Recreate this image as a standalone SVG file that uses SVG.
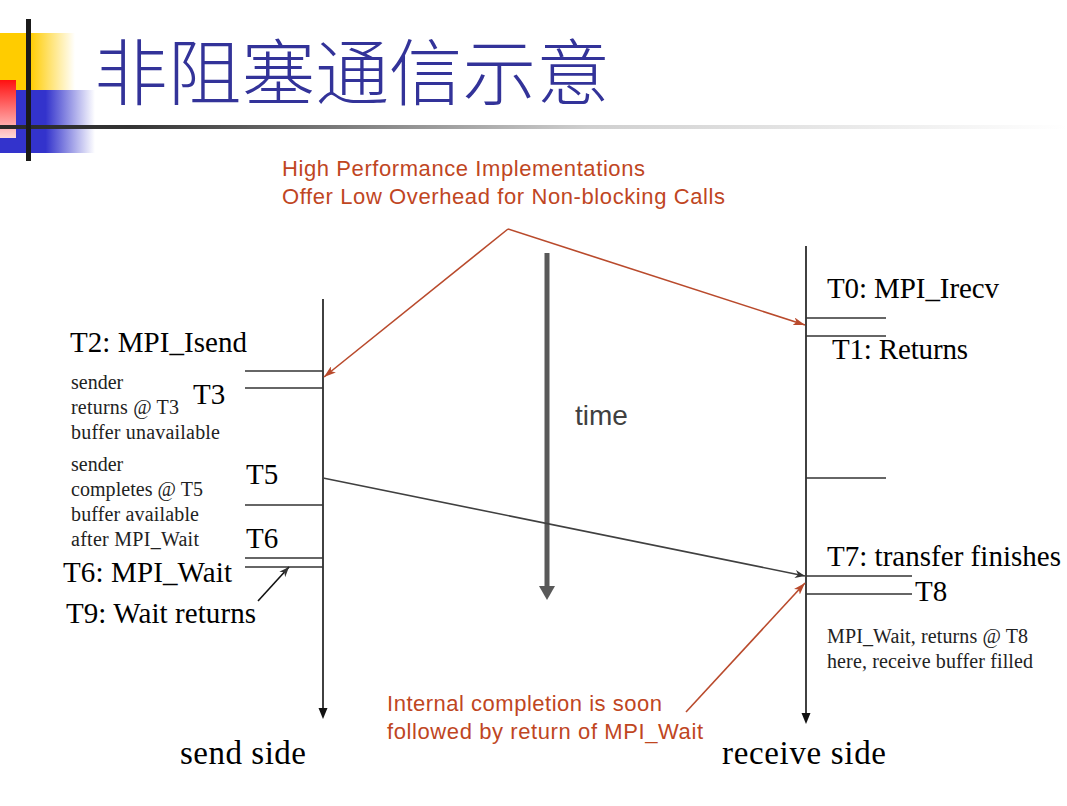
<svg xmlns="http://www.w3.org/2000/svg" width="1067" height="806" viewBox="0 0 1067 806">
<style>
.serif{font-family:"Liberation Serif","Times New Roman",serif;fill:#000}
.big{font-size:29px}
.small{font-size:20px;fill:#222}
.side{font-size:33px}
.red{font-family:"Liberation Sans",Arial,sans-serif;font-size:22px;fill:#C0461F}
.ln{stroke:#333;stroke-width:1.6;fill:none}
.axis{stroke:#111;stroke-width:1.6;fill:none}
.rarrow{stroke:#B94A2C;stroke-width:1.6;fill:none}
</style>
<defs>
<linearGradient id="gY" x1="0" x2="1" y1="0" y2="0">
<stop offset="0" stop-color="#FFCC00"/><stop offset="0.4" stop-color="#FFCC00"/><stop offset="1" stop-color="#FFCC00" stop-opacity="0"/>
</linearGradient>
<linearGradient id="gB" x1="0" x2="1" y1="0" y2="0">
<stop offset="0" stop-color="#3333CC"/><stop offset="0.48" stop-color="#3333CC"/><stop offset="1" stop-color="#3333CC" stop-opacity="0"/>
</linearGradient>
<linearGradient id="gR" x1="0" x2="0" y1="0" y2="1">
<stop offset="0" stop-color="#FF1010"/><stop offset="1" stop-color="#FFD8D8"/>
</linearGradient>
<linearGradient id="gL" x1="0" x2="1" y1="0" y2="0">
<stop offset="0" stop-color="#2a2a2a"/><stop offset="0.12" stop-color="#333"/><stop offset="0.55" stop-color="#cfcfcf"/><stop offset="1" stop-color="#ffffff"/>
</linearGradient>
<marker id="mDark" markerWidth="10" markerHeight="8" refX="10" refY="4" orient="auto" markerUnits="userSpaceOnUse">
<path d="M0,0 L10,4 L0,8 L3,4 z" fill="#333"/>
</marker>
<marker id="mRed" markerWidth="12" markerHeight="8" refX="12" refY="4" orient="auto" markerUnits="userSpaceOnUse">
<path d="M0,0 L12,4 L0,8 L3,4 z" fill="#B94A2C"/>
</marker>
</defs>

<g id="header">
<rect x="0" y="33" width="75" height="57" fill="url(#gY)"/>
<rect x="0" y="90" width="95" height="63" fill="url(#gB)"/>
<rect x="0" y="80" width="16" height="58" fill="url(#gR)"/>
<rect x="0" y="125" width="1067" height="4" fill="url(#gL)"/>
<rect x="26" y="19" width="5" height="142" fill="#1a1a1a"/>
<text x="94" y="99" font-family="'Noto Sans CJK SC','Noto Sans CJK JP',sans-serif" font-weight="300" font-size="72" fill="#333399" textLength="516" lengthAdjust="spacingAndGlyphs">非阻塞通信示意</text>
</g>

<g id="note-top">
<text class="red" x="282" y="176" textLength="363" lengthAdjust="spacing">High Performance Implementations</text>
<text class="red" x="282" y="204" textLength="443" lengthAdjust="spacing">Offer Low Overhead for Non-blocking Calls</text>
</g>

<g id="time-axis">
<line x1="547" y1="253" x2="547" y2="588" stroke="#595959" stroke-width="5"/>
<path d="M539,586 L555,586 L547,600 z" fill="#595959"/>
<text x="575" y="425" font-family="'Liberation Sans',Arial,sans-serif" font-size="28" fill="#404040">time</text>
</g>

<g id="send-side">
<line class="axis" x1="323" y1="299" x2="323" y2="710"/>
<path d="M318.5,708 L327.5,708 L323,719 z" fill="#111"/>
<line class="ln" x1="245" y1="371" x2="323" y2="371"/>
<line class="ln" x1="245" y1="388" x2="323" y2="388"/>
<line class="ln" x1="245" y1="505" x2="323" y2="505"/>
<line class="ln" x1="245" y1="558" x2="323" y2="558"/>
<line class="ln" x1="245" y1="567" x2="323" y2="567"/>
<text class="serif big" x="70" y="352" textLength="177" lengthAdjust="spacing">T2: MPI_Isend</text>
<text class="serif small" x="71" y="389">sender</text>
<text class="serif small" x="71" y="414" textLength="108" lengthAdjust="spacing">returns @ T3</text>
<text class="serif small" x="71" y="439" textLength="149" lengthAdjust="spacing">buffer unavailable</text>
<text class="serif big" x="193" y="404">T3</text>
<text class="serif small" x="71" y="471">sender</text>
<text class="serif small" x="71" y="496" textLength="132" lengthAdjust="spacing">completes @ T5</text>
<text class="serif small" x="71" y="521" textLength="128" lengthAdjust="spacing">buffer available</text>
<text class="serif small" x="71" y="546" textLength="128" lengthAdjust="spacing">after MPI_Wait</text>
<text class="serif big" x="246" y="484">T5</text>
<text class="serif big" x="246" y="548">T6</text>
<text class="serif big" x="63" y="582" textLength="169" lengthAdjust="spacing">T6: MPI_Wait</text>
<text class="serif big" x="66" y="623" textLength="190" lengthAdjust="spacing">T9: Wait returns</text>
<text class="serif side" x="180" y="764" textLength="126" lengthAdjust="spacing">send side</text>
</g>

<g id="receive-side">
<line class="axis" x1="806" y1="246" x2="806" y2="715"/>
<path d="M801.5,713 L810.5,713 L806,724 z" fill="#111"/>
<line class="ln" x1="806" y1="318" x2="886" y2="318"/>
<line class="ln" x1="806" y1="336" x2="886" y2="336"/>
<line class="ln" x1="806" y1="478" x2="886" y2="478"/>
<line class="ln" x1="806" y1="576" x2="912" y2="576"/>
<line class="ln" x1="806" y1="594" x2="912" y2="594"/>
<text class="serif big" x="827" y="298" textLength="172" lengthAdjust="spacing">T0: MPI_Irecv</text>
<text class="serif big" x="832" y="359" textLength="136" lengthAdjust="spacing">T1: Returns</text>
<text class="serif big" x="827" y="566" textLength="234" lengthAdjust="spacing">T7: transfer finishes</text>
<text class="serif big" x="915" y="601">T8</text>
<text class="serif small" x="827" y="643" textLength="201" lengthAdjust="spacing">MPI_Wait, returns @ T8</text>
<text class="serif small" x="827" y="668" textLength="206" lengthAdjust="spacing">here, receive buffer filled</text>
<text class="serif side" x="722" y="764" textLength="164" lengthAdjust="spacing">receive side</text>
</g>

<g id="note-bottom">
<text class="red" x="387" y="711" textLength="275" lengthAdjust="spacing">Internal completion is soon</text>
<text class="red" x="387" y="739" textLength="316" lengthAdjust="spacing">followed by return of MPI_Wait</text>
</g>

<g id="connectors">
<line class="rarrow" x1="508" y1="229" x2="324" y2="377" marker-end="url(#mRed)"/>
<line class="rarrow" x1="508" y1="229" x2="805" y2="325" marker-end="url(#mRed)"/>
<line class="rarrow" x1="686" y1="712" x2="805" y2="583" marker-end="url(#mRed)"/>
<line x1="323" y1="478" x2="805" y2="576" stroke="#404040" stroke-width="1.6" marker-end="url(#mDark)"/>
<line x1="258" y1="601" x2="289" y2="567" stroke="#111" stroke-width="1.6" marker-end="url(#mDark)"/>
</g>
</svg>
